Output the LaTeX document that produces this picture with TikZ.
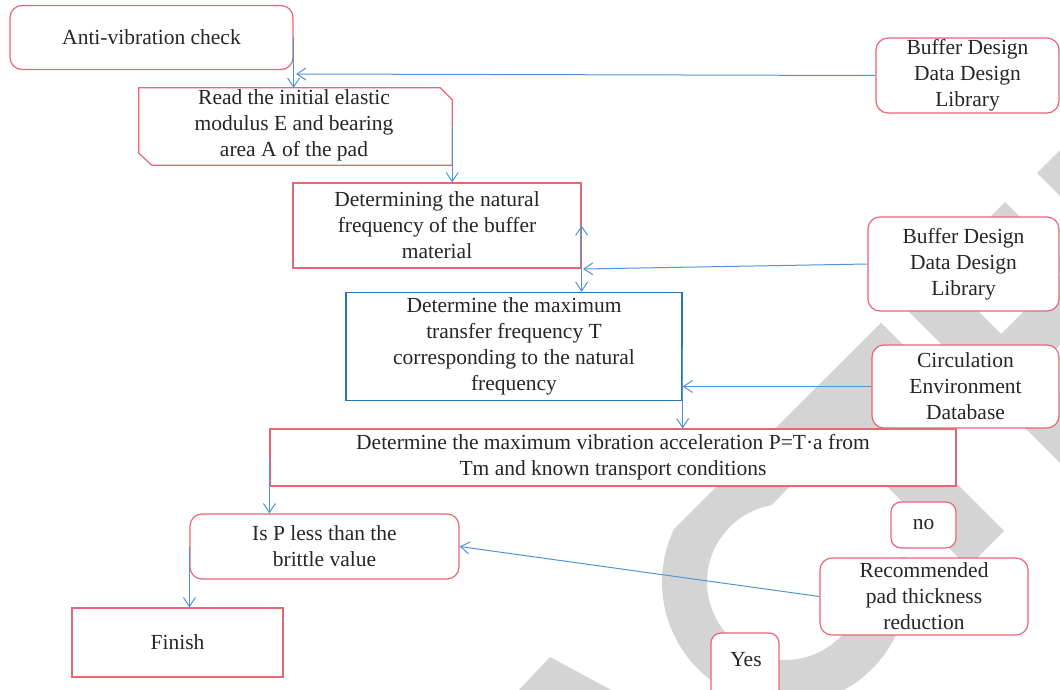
\documentclass[tikz,border=0pt]{standalone}
\usepackage{fontspec}
\setmainfont{Liberation Serif}
\usetikzlibrary{arrows.meta}
\definecolor{boxred}{RGB}{235,100,115}
\definecolor{boxblue}{RGB}{40,115,185}
\definecolor{lineblue}{RGB}{80,148,215}
\definecolor{wm}{RGB}{212,212,212}
\begin{document}
\begin{tikzpicture}[x=1pt,y=-1pt,
  every node/.style={font=\fontsize{21.5}{26}\selectfont, text=black!85, align=center, inner sep=0pt},
  rbox/.style={draw=boxred, line width=1.2pt, fill=white, rounded corners=12pt},
  sbox/.style={draw=boxred, line width=1.2pt, fill=white},
  bbox/.style={draw=boxblue, line width=1.3pt, fill=white},
  conn/.style={draw=lineblue, line width=1pt, -{Straight Barb[length=9pt,width=12pt]}},
  dconn/.style={draw=lineblue, line width=1pt, {Straight Barb[length=9pt,width=12pt]}-{Straight Barb[length=9pt,width=12pt]}},
]
\useasboundingbox (0,0) rectangle (1060,690);
\clip (0,0) rectangle (1060,690);

% watermark
\fill[wm] plot[domain=205:-12,samples=80] ({785+123*cos(\x)},{582+123*sin(\x)}) -- plot[domain=-12:205,samples=80] ({785+78*cos(\x)},{582+78*sin(\x)}) -- cycle;
\fill[wm] (881,323) -- (916,358) -- plot[domain=260:205,samples=20] ({785+78*cos(\x)},{582+78*sin(\x)}) -- (673,530) -- cycle;
\fill[wm] (881,323) -- (940,382) -- (940,467) -- (1004,531) -- (968,567) -- (820,420) -- cycle;
\fill[wm] (890,223) -- (1070,403) -- (1070,473) -- (890,293) -- cycle;
\fill[wm] (1070,265) -- (1070,335) -- (990,415) -- (920,415) -- cycle;
\fill[wm] (1005,202) -- (1075,272) -- (935,272) -- cycle;
\fill[wm] (1037,173) -- (1075,135) -- (1075,211) -- cycle;
\fill[wm] (550,657) -- (615,692) -- (517,692) -- cycle;

% nodes
\node[rbox, minimum width=283pt, minimum height=64pt] (n1) at (151.5,37.5) {Anti-vibration check};
\node[minimum width=313pt, minimum height=77pt] (n2) at (295.5,126.5) {};
\draw[draw=boxred, line width=1.2pt, fill=white] (n2.north west) -- ([xshift=-12pt]n2.north east) -- ([yshift=-12pt]n2.north east) -- (n2.south east) -- ([xshift=13pt]n2.south west) -- ([yshift=12pt]n2.south west) -- cycle;
\node (n2t) at (294,125) {Read the initial elastic\\modulus E and bearing\\area A of the pad};
\node[sbox, minimum width=288pt, minimum height=85pt] (n3) at (437,225.5) {Determining the natural\\frequency of the buffer\\material};
\node[bbox, minimum width=336pt, minimum height=108pt] (n4) at (514,346.5) {Determine the maximum\\transfer frequency T\\corresponding to the natural\\frequency};
\node[sbox, minimum width=686pt, minimum height=57pt] (n5) at (613,457.5) {Determine the maximum vibration acceleration P=T·a from\\Tm and known transport conditions};
\node[rbox, minimum width=269pt, minimum height=65pt] (n6) at (324.5,546.5) {Is P less than the\\brittle value};
\node[sbox, minimum width=211pt, minimum height=69pt] (n7) at (177.5,642.5) {Finish};
\node[rbox, minimum width=183pt, minimum height=75pt] (b1) at (967.5,75.5) {Buffer Design\\Data Design\\Library};
\node[rbox, minimum width=191pt, minimum height=94pt] (b2) at (963.5,264) {Buffer Design\\Data Design\\Library};
\node[rbox, minimum width=187pt, minimum height=83pt] (c1) at (965.5,386.5) {Circulation\\Environment\\Database};
\node[rbox, rounded corners=10pt, minimum width=65pt, minimum height=46pt] (no) at (923.5,525) {no};
\node[rbox, minimum width=208pt, minimum height=77pt] (rec) at (924,596.5) {Recommended\\pad thickness\\reduction};
\node[rbox, rounded corners=10pt, minimum width=68pt, minimum height=67pt, text depth=0pt] (yes) at (745,666.5) {};
\node (yest) at (746,660) {Yes};

% connectors
\coordinate (ta) at (296,74);
\coordinate (tb) at (583,269);
\draw[conn] (n1.east) -- (n1.east |- n2.north);
\draw[conn] (b1.west) -- (ta);
\draw[conn] (n2.east) -- (n2.east |- n3.north);
\draw[dconn] (n3.east) -- (n3.east |- n4.north);
\draw[conn] (b2.west) -- (tb);
\draw[conn] (c1.west) -- (c1.west -| n4.east);
\draw[conn] (n4.east) -- (n4.east |- n5.north);
\draw[conn] (n5.west) -- (n5.west |- n6.north);
\draw[conn] (n6.west) -- (n6.west |- n7.north);
\draw[conn] (rec.west) -- (n6.east);
\end{tikzpicture}
\end{document}
